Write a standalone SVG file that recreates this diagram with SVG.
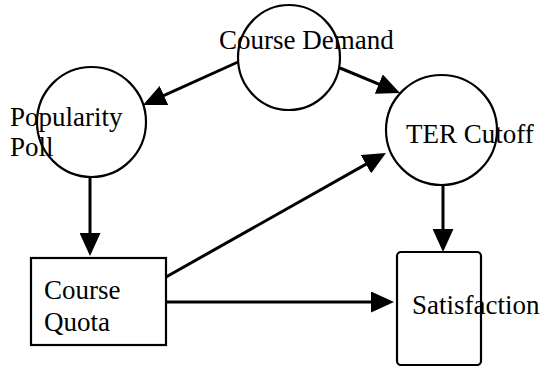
<svg xmlns="http://www.w3.org/2000/svg" width="544" height="366" viewBox="0 0 544 366">
<style>
.node{fill:none;stroke:#000;stroke-width:2.2}
.lbl{font-family:"Liberation Serif","Times New Roman",serif;font-size:27px;fill:#000}
.edge{stroke:#000;stroke-width:3;fill:none}
</style>
<defs>
<marker id="ah" markerUnits="userSpaceOnUse" markerWidth="23" markerHeight="21" refX="15" refY="10.5" orient="auto" viewBox="0 0 23 21">
<path d="M0,0 L23,10.5 L0,21 z" fill="#000"/>
</marker>
</defs>
<rect width="544" height="366" fill="#fff"/>
<g id="connectors">
<line class="edge" x1="238" y1="62" x2="150.3" y2="101.7" marker-end="url(#ah)"/>
<line class="edge" x1="340" y1="68" x2="392.6" y2="89.9" marker-end="url(#ah)"/>
<line class="edge" x1="90" y1="177" x2="90" y2="248" marker-end="url(#ah)"/>
<line class="edge" x1="166" y1="277" x2="379" y2="156.9" marker-end="url(#ah)"/>
<line class="edge" x1="443" y1="185" x2="443" y2="244" marker-end="url(#ah)"/>
<line class="edge" x1="166" y1="302" x2="386" y2="302" marker-end="url(#ah)"/>
</g>
<g id="course-demand">
<ellipse class="node" cx="289" cy="57.5" rx="51" ry="52.5"/>
<text class="lbl" x="219" y="49">Course Demand</text>
</g>
<g id="popularity-poll">
<ellipse class="node" cx="91.5" cy="122" rx="54.5" ry="55"/>
<text class="lbl" x="10" y="126">Popularity</text>
<text class="lbl" x="10" y="156">Poll</text>
</g>
<g id="ter-cutoff">
<ellipse class="node" cx="441.5" cy="130" rx="55.5" ry="55"/>
<text class="lbl" x="406" y="143">TER Cutoff</text>
</g>
<g id="course-quota">
<rect class="node" x="31" y="258" width="135" height="87"/>
<text class="lbl" x="44" y="299">Course</text>
<text class="lbl" x="44" y="331">Quota</text>
</g>
<g id="satisfaction">
<rect class="node" x="397" y="252" width="84" height="113" rx="4"/>
<text class="lbl" x="412" y="314">Satisfaction</text>
</g>
</svg>
